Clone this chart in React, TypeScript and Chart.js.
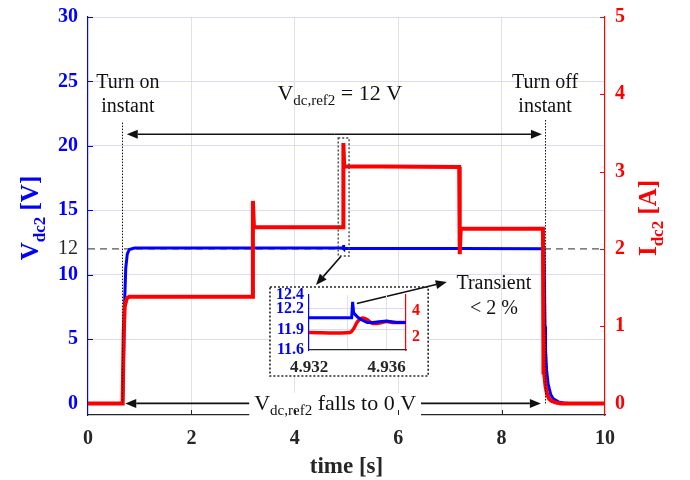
import React, { useEffect, useRef } from "react";
import { Chart, registerables } from "chart.js";

Chart.register(...registerables);

// ---------------- data ----------------
const TIME_V = [0, 0.67, 0.69, 0.71, 0.73, 0.76, 0.8, 0.9, 3.2, 4.934, 4.94, 4.95, 5.0, 7.2, 8.82, 8.83, 8.84, 8.85, 8.87, 8.9, 8.95, 9.0, 9.1, 9.2, 9.3, 10];
const VDC2 = [0, 0, 4, 8, 10.5, 11.6, 11.95, 12.07, 12.07, 12.07, 12.3, 12.02, 12.02, 12.02, 12.0, 9.0, 6.0, 4.2, 2.6, 1.5, 0.7, 0.35, 0.12, 0.04, 0.0, 0];

const TIME_I = [0, 0.67, 0.69, 0.71, 0.75, 0.8, 3.18, 3.19, 3.21, 4.934, 4.94, 4.955, 7.18, 7.19, 7.21, 8.8, 8.81, 8.815, 8.82, 8.83, 8.85, 8.88, 8.92, 8.97, 9.05, 9.15, 10];
const IDC2 = [0, 0, 0.9, 1.25, 1.36, 1.38, 1.38, 2.62, 2.28, 2.28, 3.37, 3.07, 3.06, 1.93, 2.26, 2.26, 0.4, 0.9, 0.5, 0.35, 0.22, 0.12, 0.06, 0.03, 0.01, 0, 0];

const REF_TIME = [0, 10];
const REF_V = [12, 12];

const X_TICKS = [0, 2, 4, 6, 8, 10];
const LEFT_TICKS = [0, 5, 10, 12, 15, 20, 25, 30];
const RIGHT_TICKS = [0, 1, 2, 3, 4, 5];

// inset (zoom around the 4.934 s load step)
const INSET_TIME_V = [4.932, 4.9342, 4.93425, 4.9343, 4.9345, 4.9347, 4.935, 4.9353, 4.9356, 4.936, 4.9365, 4.937];
const INSET_V = [12.07, 12.07, 12.3, 12.14, 12.08, 12.04, 12.0, 12.0, 12.01, 12.02, 12.0, 12.0];
const INSET_TIME_I = [4.932, 4.9341, 4.9343, 4.9345, 4.93475, 4.935, 4.9352, 4.9355, 4.9358, 4.936, 4.9363, 4.937];
const INSET_I = [2.3, 2.3, 2.6, 3.15, 3.42, 3.3, 3.06, 3.0, 3.1, 3.15, 3.08, 3.08];

const INSET_X_TICKS = [4.932, 4.934, 4.936];
const INSET_X_LABELS = ["4.932", "", "4.936"];
const INSET_LEFT_TICKS = [11.6, 11.9, 12.2, 12.4];
const INSET_RIGHT_TICKS = [2, 4];

// ---------------- annotation anchors (data units) ----------------
const INSET_BOX = { t0: 3.52, t1: 6.58, v0: 2.13, v1: 9.04 };
const ZOOM_RECT = { t0: 4.84, t1: 5.05, v0: 11.45, v1: 20.6 };
const ZOOM_ARROW = { t0: 4.89, v0: 11.4, t1: 4.41, v1: 9.2 };
const TRANSIENT_ARROW = { t0: 5.2, v0: 7.75, t1: 6.94, v1: 9.43 };
const TOP_ARROW = { t0: 0.75, t1: 8.78, v: 20.9 };
const BOTTOM_ARROW = { t0: 0.72, t1: 8.76, v: 0 };
const TURN_ON_LINE = { t: 0.667, v0: 0, v1: 21.8 };
const TURN_OFF_LINE = { t: 8.84, v0: 0, v1: 22.0 };

// ---------------- styles ----------------
const SERIF = "'Liberation Serif', 'Times New Roman', serif";
const BLUE = "#0000ff";
const RED = "#ff0000";
const AX = "#262626";
const HGRID = "rgba(205,205,250,0.75)";
const VGRID = "#e2e2e2";

type Part = { t: string; sub?: boolean };

function drawParts(
  ctx: CanvasRenderingContext2D,
  parts: Part[],
  cx: number,
  baseline: number,
  size: number,
  subSize: number,
  weight: string,
  color: string,
  subShift: number,
  bg?: boolean
) {
  const fonts = parts.map((p) => `${weight} ${p.sub ? subSize : size}px ${SERIF}`);
  let total = 0;
  const widths = parts.map((p, i) => {
    ctx.font = fonts[i];
    const w = ctx.measureText(p.t).width;
    total += w;
    return w;
  });
  let x = cx - total / 2;
  if (bg) {
    ctx.fillStyle = "#fff";
    ctx.fillRect(x - 5, baseline - size * 0.8, total + 10, size * 1.15);
  }
  ctx.fillStyle = color;
  ctx.textAlign = "left";
  ctx.textBaseline = "alphabetic";
  parts.forEach((p, i) => {
    ctx.font = fonts[i];
    ctx.fillText(p.t, x, baseline + (p.sub ? subShift : 0));
    x += widths[i];
  });
}

function arrow(ctx: CanvasRenderingContext2D, x0: number, y0: number, x1: number, y1: number, len = 11, half = 4.5) {
  const a = Math.atan2(y1 - y0, x1 - x0);
  const bx = x1 - len * Math.cos(a);
  const by = y1 - len * Math.sin(a);
  ctx.beginPath();
  ctx.moveTo(x0, y0);
  ctx.lineTo(bx, by);
  ctx.stroke();
  ctx.beginPath();
  ctx.moveTo(x1, y1);
  ctx.lineTo(bx + half * Math.sin(a), by - half * Math.cos(a));
  ctx.lineTo(bx - half * Math.sin(a), by + half * Math.cos(a));
  ctx.closePath();
  ctx.fill();
}

const noPad = (a: any) => {
  a.paddingTop = 0;
  a.paddingBottom = 0;
};

const annotPlugin = {
  id: "annot",
  afterDatasetsDraw(chart: any) {
    const ctx: CanvasRenderingContext2D = chart.ctx;
    const x = chart.scales.x;
    const y = chart.scales.y;
    const px = (t: number) => x.getPixelForValue(t);
    const py = (v: number) => y.getPixelForValue(v);
    ctx.save();

    // inset box (white, dotted frame)
    const bx0 = px(INSET_BOX.t0), bx1 = px(INSET_BOX.t1), by0 = py(INSET_BOX.v1), by1 = py(INSET_BOX.v0);
    ctx.fillStyle = "#fff";
    ctx.fillRect(bx0, by0, bx1 - bx0, by1 - by0);
    ctx.setLineDash([2, 2]);
    ctx.strokeStyle = "#222";
    ctx.lineWidth = 1.6;
    ctx.strokeRect(bx0, by0, bx1 - bx0, by1 - by0);

    // zoom rectangle
    ctx.lineWidth = 1.4;
    ctx.strokeStyle = "#444";
    ctx.strokeRect(px(ZOOM_RECT.t0), py(ZOOM_RECT.v1), px(ZOOM_RECT.t1) - px(ZOOM_RECT.t0), py(ZOOM_RECT.v0) - py(ZOOM_RECT.v1));

    // dotted vertical instants
    ctx.setLineDash([1.5, 1.5]);
    ctx.lineWidth = 1;
    ctx.strokeStyle = "#111";
    [TURN_ON_LINE, TURN_OFF_LINE].forEach((l) => {
      ctx.beginPath();
      ctx.moveTo(Math.round(px(l.t)) + 0.5, py(l.v1));
      ctx.lineTo(Math.round(px(l.t)) + 0.5, py(l.v0));
      ctx.stroke();
    });
    ctx.setLineDash([]);

    // arrows
    ctx.strokeStyle = "#111";
    ctx.fillStyle = "#111";
    ctx.lineWidth = 1.6;
    const tm = (px(TOP_ARROW.t0) + px(TOP_ARROW.t1)) / 2;
    arrow(ctx, tm, py(TOP_ARROW.v), px(TOP_ARROW.t0), py(TOP_ARROW.v));
    arrow(ctx, tm, py(TOP_ARROW.v), px(TOP_ARROW.t1), py(TOP_ARROW.v));
    const bm = (px(BOTTOM_ARROW.t0) + px(BOTTOM_ARROW.t1)) / 2;
    arrow(ctx, bm, py(BOTTOM_ARROW.v), px(BOTTOM_ARROW.t0), py(BOTTOM_ARROW.v));
    arrow(ctx, bm, py(BOTTOM_ARROW.v), px(BOTTOM_ARROW.t1), py(BOTTOM_ARROW.v));
    arrow(ctx, px(ZOOM_ARROW.t0), py(ZOOM_ARROW.v0), px(ZOOM_ARROW.t1), py(ZOOM_ARROW.v1));
    arrow(ctx, px(TRANSIENT_ARROW.t0), py(TRANSIENT_ARROW.v0), px(TRANSIENT_ARROW.t1), py(TRANSIENT_ARROW.v1));

    // texts
    const black = "#111";
    const onX = px(0.77);
    drawParts(ctx, [{ t: "Turn on" }], onX, py(24.45), 20, 14, "normal", black, 0);
    drawParts(ctx, [{ t: "instant" }], onX, py(22.65), 20, 14, "normal", black, 0);
    const offX = px(8.84);
    drawParts(ctx, [{ t: "Turn off" }], offX, py(24.45), 20, 14, "normal", black, 0);
    drawParts(ctx, [{ t: "instant" }], offX, py(22.65), 20, 14, "normal", black, 0);
    drawParts(ctx, [{ t: "V" }, { t: "dc,ref2", sub: true }, { t: " = 12 V" }], px(4.87), py(23.55), 22, 15, "normal", black, 5);
    drawParts(ctx, [{ t: "V" }, { t: "dc,ref2", sub: true }, { t: " falls to 0 V" }], px(4.78), py(-0.55), 22, 15, "normal", black, 5, true);
    drawParts(ctx, [{ t: "Transient" }], px(7.85), py(8.9), 20, 14, "normal", black, 0);
    drawParts(ctx, [{ t: "< 2 %" }], px(7.85), py(6.95), 20, 14, "normal", black, 0);
    ctx.restore();
  },
  afterDraw(chart: any) {
    const ctx: CanvasRenderingContext2D = chart.ctx;
    const { left, right, top, bottom } = chart.chartArea;
    const x = chart.scales.x;
    const y = chart.scales.y;
    const y1 = chart.scales.y1;
    ctx.save();
    // inward tick marks
    ctx.lineWidth = 1;
    ctx.strokeStyle = AX;
    X_TICKS.slice(1, -1).forEach((v) => {
      const p = Math.round(x.getPixelForValue(v)) + 0.5;
      ctx.beginPath();
      ctx.moveTo(p, bottom);
      ctx.lineTo(p, bottom - 5);
      ctx.stroke();
    });
    ctx.strokeStyle = BLUE;
    LEFT_TICKS.filter((v) => v !== 12 && v !== 0).forEach((v) => {
      const p = Math.round(y.getPixelForValue(v)) + 0.5;
      ctx.beginPath();
      ctx.moveTo(left, p);
      ctx.lineTo(left + 5, p);
      ctx.stroke();
    });
    ctx.strokeStyle = RED;
    RIGHT_TICKS.slice(1).forEach((v) => {
      const p = Math.round(y1.getPixelForValue(v)) + 0.5;
      ctx.beginPath();
      ctx.moveTo(right, p);
      ctx.lineTo(right - 5, p);
      ctx.stroke();
    });

    // axis titles
    const midY = (top + bottom) / 2 + 2;
    ctx.save();
    ctx.translate(left - 50, midY);
    ctx.rotate(-Math.PI / 2);
    drawParts(ctx, [{ t: "V" }, { t: "dc2", sub: true }, { t: " [V]" }], 0, 0, 25, 17, "bold", BLUE, 7);
    ctx.restore();
    ctx.save();
    ctx.translate(right + 51, midY);
    ctx.rotate(-Math.PI / 2);
    drawParts(ctx, [{ t: "I" }, { t: "dc2", sub: true }, { t: " [A]" }], 0, 0, 25, 17, "bold", RED, 7);
    ctx.restore();
    drawParts(ctx, [{ t: "time [s]" }], (left + right) / 2, bottom + 58, 23, 16, "bold", AX, 0);
    ctx.restore();
  },
};

const pts = (xs: number[], ys: number[]) => xs.map((t, i) => ({ x: t, y: ys[i] }));

export default function App() {
  const mainRef = useRef<HTMLCanvasElement>(null);
  const insetRef = useRef<HTMLCanvasElement>(null);
  const wrapRef = useRef<HTMLDivElement>(null);

  useEffect(() => {
    const main = new Chart(mainRef.current as HTMLCanvasElement, {
      type: "line",
      data: {
        datasets: [
          { label: "Idc2", data: pts(TIME_I, IDC2), yAxisID: "y1", borderColor: RED, borderWidth: 4, pointRadius: 0, tension: 0, order: 0 },
          { label: "Vdc2", data: pts(TIME_V, VDC2), yAxisID: "y", borderColor: BLUE, borderWidth: 3, pointRadius: 0, tension: 0, order: 1 },
          { label: "ref", data: pts(REF_TIME, REF_V), yAxisID: "y", borderColor: "#555", borderWidth: 1.2, borderDash: [7, 5], pointRadius: 0, order: 2 },
        ],
      } as any,
      options: {
        animation: false,
        responsive: false,
        maintainAspectRatio: false,
        layout: { padding: { top: 17, left: 0, right: 0, bottom: 0 } },
        plugins: { legend: { display: false }, tooltip: { enabled: false } },
        scales: {
          x: {
            type: "linear",
            min: 0,
            max: 10,
            afterBuildTicks: (a: any) => { a.ticks = X_TICKS.map((v) => ({ value: v })); },
            afterFit: (a: any) => { a.height = 65; },
            ticks: { color: AX, font: { family: SERIF, size: 20, weight: "bold" }, padding: 12, autoSkip: false, maxRotation: 0, callback: (v: any) => String(v) },
            grid: { color: (c: any) => (c.tick && (c.tick.value === 0 || c.tick.value === 10) ? "rgba(0,0,0,0)" : VGRID), drawTicks: false },
            border: { color: AX, width: 1.2 },
          },
          y: {
            type: "linear",
            position: "left",
            min: -0.9,
            max: 30,
            afterBuildTicks: (a: any) => { a.ticks = LEFT_TICKS.map((v) => ({ value: v })); },
            afterFit: (a: any) => { a.width = 88; noPad(a); },
            ticks: {
              autoSkip: false,
              padding: 10,
              callback: (v: any) => String(v),
              color: (c: any) => (c.tick && c.tick.value === 12 ? AX : BLUE),
              font: (c: any) => (c.tick && c.tick.value === 12
                ? { family: SERIF, size: 20, weight: "normal" }
                : { family: SERIF, size: 20, weight: "bold" }),
            },
            grid: { color: (c: any) => (c.tick && (c.tick.value === 12 || c.tick.value === 0) ? "rgba(0,0,0,0)" : HGRID), drawTicks: false },
            border: { color: BLUE, width: 1.2 },
          },
          y1: {
            type: "linear",
            position: "right",
            min: -0.15,
            max: 5,
            afterBuildTicks: (a: any) => { a.ticks = RIGHT_TICKS.map((v) => ({ value: v })); },
            afterFit: (a: any) => { a.width = 85; noPad(a); },
            ticks: { autoSkip: false, padding: 10, color: RED, font: { family: SERIF, size: 20, weight: "bold" }, callback: (v: any) => String(v) },
            grid: { drawOnChartArea: false, drawTicks: false },
            border: { color: RED, width: 1.2 },
          },
        },
      } as any,
      plugins: [annotPlugin],
    });

    // place the inset over the white box (computed through the main scales)
    const sx = main.scales.x;
    const sy = main.scales.y;
    const left = Math.round(sx.getPixelForValue(INSET_BOX.t0));
    const right = Math.round(sx.getPixelForValue(INSET_BOX.t1));
    const top = Math.round(sy.getPixelForValue(INSET_BOX.v1));
    const bottom = Math.round(sy.getPixelForValue(INSET_BOX.v0));
    const w = right - left;
    const h = bottom - top;
    const wrap = wrapRef.current as HTMLDivElement;
    wrap.style.left = left + "px";
    wrap.style.top = top + "px";
    wrap.style.width = w + "px";
    wrap.style.height = h + "px";
    const ic = insetRef.current as HTMLCanvasElement;
    ic.width = w;
    ic.height = h;
    ic.style.width = w + "px";
    ic.style.height = h + "px";

    const tickFont = { family: SERIF, size: 16, weight: "bold", lineHeight: 1 };
    const inset = new Chart(ic, {
      type: "line",
      data: {
        datasets: [
          { label: "Iin", data: pts(INSET_TIME_I, INSET_I), yAxisID: "y1", borderColor: RED, borderWidth: 3.5, pointRadius: 0, tension: 0.3, order: 1 },
          { label: "Vin", data: pts(INSET_TIME_V, INSET_V), yAxisID: "y", borderColor: BLUE, borderWidth: 3, pointRadius: 0, tension: 0, order: 0 },
        ],
      } as any,
      options: {
        animation: false,
        responsive: false,
        maintainAspectRatio: false,
        layout: { padding: { top: 8, left: 0, right: 0, bottom: 0 } },
        plugins: { legend: { display: false }, tooltip: { enabled: false } },
        scales: {
          x: {
            type: "linear",
            min: 4.932,
            max: 4.937,
            afterBuildTicks: (a: any) => { a.ticks = INSET_X_TICKS.map((v) => ({ value: v })); },
            afterFit: (a: any) => { a.height = 26; },
            ticks: {
              autoSkip: false,
              maxRotation: 0,
              padding: 9,
              color: AX,
              font: { family: SERIF, size: 17, weight: "bold", lineHeight: 1 },
              callback: (v: any) => INSET_X_LABELS[INSET_X_TICKS.indexOf(v)] ?? "",
            },
            grid: { color: (c: any) => (c.tick && c.tick.value === 4.932 ? "rgba(0,0,0,0)" : VGRID), drawTicks: false },
            border: { color: AX, width: 1.2 },
          },
          y: {
            type: "linear",
            position: "left",
            min: 11.6,
            max: 12.4,
            afterBuildTicks: (a: any) => { a.ticks = INSET_LEFT_TICKS.map((v) => ({ value: v })); },
            afterFit: (a: any) => { a.width = 39; noPad(a); },
            ticks: { autoSkip: false, padding: 5, color: BLUE, font: tickFont, callback: (v: any) => Number(v).toFixed(1) },
            grid: { color: (c: any) => (c.tick && (c.tick.value === 11.6 || c.tick.value === 12.4) ? "rgba(0,0,0,0)" : HGRID), drawTicks: false },
            border: { color: BLUE, width: 1.2 },
          },
          y1: {
            type: "linear",
            position: "right",
            min: 0.96,
            max: 5.2,
            afterBuildTicks: (a: any) => { a.ticks = INSET_RIGHT_TICKS.map((v) => ({ value: v })); },
            afterFit: (a: any) => { a.width = 22; noPad(a); },
            ticks: { autoSkip: false, padding: 6, color: RED, font: tickFont, callback: (v: any) => String(v) },
            grid: { drawOnChartArea: false, drawTicks: false },
            border: { color: RED, width: 1.2 },
          },
        },
      } as any,
    });

    return () => {
      inset.destroy();
      main.destroy();
    };
  }, []);

  return (
    <div style={{ position: "fixed", left: 0, top: 0, width: 690, height: 480, background: "#fff" }}>
      <canvas ref={mainRef} width={690} height={480} style={{ position: "absolute", left: 0, top: 0, width: 690, height: 480 }} />
      <div ref={wrapRef} style={{ position: "absolute" }}>
        <canvas ref={insetRef} />
      </div>
    </div>
  );
}
